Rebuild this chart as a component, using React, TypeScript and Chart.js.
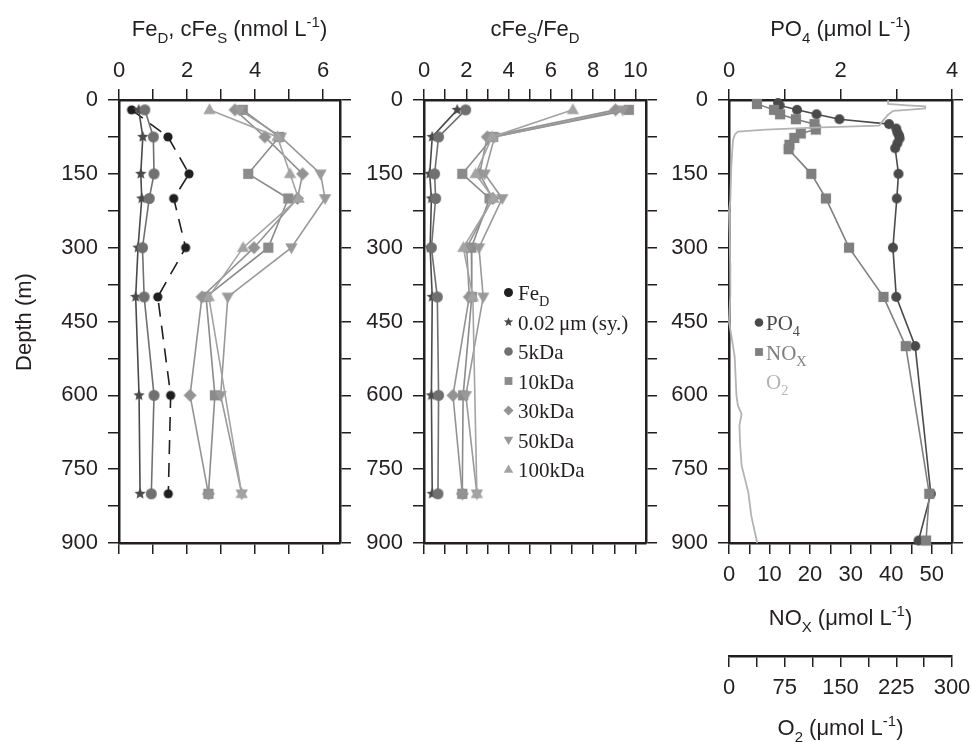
import React, { useEffect, useRef } from 'react';
import { Chart, registerables } from 'chart.js';

Chart.register(...registerables);

// ---------------- data ----------------
const DEPTHS = [20, 75, 150, 200, 300, 400, 600, 800];

// cFeS / FeD concentrations (nmol L-1)
const FE_D = [0.37, 1.44, 2.06, 1.61, 1.96, 1.14, 1.52, 1.45];
const C_002 = [0.58, 0.7, 0.64, 0.67, 0.56, 0.49, 0.59, 0.62];
const C_5K = [0.76, 1.01, 1.03, 0.89, 0.69, 0.74, 1.03, 0.95];
const C_10K = [3.64, 4.71, 3.8, 4.98, 4.39, 2.56, 2.82, 2.63];
const C_30K = [3.41, 4.29, 5.4, 5.25, 3.97, 2.44, 2.09, 2.63];
const C_50K = [3.55, 4.76, 5.93, 6.06, 5.07, 3.2, 2.99, 3.61];
const C_100K = [2.66, 4.66, 5.03, 5.28, 3.65, 2.64, null, 3.61];

// cFeS / FeD ratios
const R_002 = [1.57, 0.39, 0.27, 0.35, 0.29, 0.39, 0.35, 0.39];
const R_5K = [1.97, 0.69, 0.5, 0.55, 0.35, 0.63, 0.69, 0.66];
const R_10K = [9.69, 3.27, 1.81, 3.1, 2.24, 2.26, 1.85, 1.81];
const R_30K = [9.06, 2.99, 2.63, 3.25, 2.02, 2.14, 1.37, 1.81];
const R_50K = [9.4, 3.34, 2.87, 3.7, 2.6, 2.8, 1.98, 2.5];
const R_100K = [7.04, 3.22, 2.44, 3.28, 1.86, 2.31, null, 2.5];

// nutrients
const PO4_DEPTH = [6, 11, 20, 29, 39, 49, 58, 66, 72, 78, 88, 98, 150, 200, 300, 400, 500, 800, 895];
const PO4 = [0.88, 0.91, 1.22, 1.57, 1.98, 2.87, 3.0, 3.02, 3.05, 3.06, 3.02, 2.98, 3.04, 3.01, 2.94, 3.0, 3.34, 3.62, 3.4];
const NOX_DEPTH = [8, 20, 29, 39, 49, 60, 68, 77, 91, 100, 150, 200, 300, 400, 500, 800, 895];
const NOX = [6.9, 11.1, 12.6, 16.5, 21.1, 21.4, 17.7, 16.1, 14.9, 14.7, 20.3, 23.9, 29.6, 38.1, 43.6, 49.4, 48.6];
const O2_DEPTH = [0, 8, 11, 13, 17, 20, 22, 30, 44, 52, 56, 60, 64, 70, 81, 100, 135, 203, 227, 271, 330, 396, 450, 500, 521, 600, 621, 638, 661, 700, 743, 797, 845, 900];
const O2 = [214, 214, 240, 264, 264, 240, 221, 214, 206, 202, 113, 50, 12, 8, 5.4, 4.5, 3.1, 1.8, 0, 0.9, 1.5, 1.8, 0, 5.4, 7.6, 10, 12, 17, 14, 15, 17, 26, 30, 38];

// ---------------- styling ----------------
const SANS = "'Liberation Sans', Arial, Helvetica, sans-serif";
const SERIF = "'Liberation Serif', 'Times New Roman', serif";
const INK = '#231f20';
const FS = 22;

const COL = {
  fed: '#1f1f1f',
  s002: '#4a4a4a',
  k5: '#707070',
  k10: '#8b8b8b',
  k30: '#939393',
  k50: '#999999',
  k100: '#a3a3a3',
  po4: '#4a4a4a',
  nox: '#7f7f7f',
  o2: '#b3b3b3',
};

type Shape = 'circle' | 'star' | 'square' | 'diamond' | 'triUp' | 'triDown';

function drawMarker(ctx: CanvasRenderingContext2D, shape: Shape, x: number, y: number, r: number, color: string) {
  ctx.fillStyle = color;
  ctx.beginPath();
  if (shape === 'circle') {
    ctx.arc(x, y, r, 0, Math.PI * 2);
  } else if (shape === 'square') {
    const h = r * 0.85;
    ctx.rect(x - h, y - h, 2 * h, 2 * h);
  } else if (shape === 'diamond') {
    ctx.moveTo(x, y - r);
    ctx.lineTo(x + r, y);
    ctx.lineTo(x, y + r);
    ctx.lineTo(x - r, y);
    ctx.closePath();
  } else if (shape === 'triUp') {
    ctx.moveTo(x, y - r);
    ctx.lineTo(x + r * 0.95, y + r * 0.65);
    ctx.lineTo(x - r * 0.95, y + r * 0.65);
    ctx.closePath();
  } else if (shape === 'triDown') {
    ctx.moveTo(x, y + r);
    ctx.lineTo(x + r * 0.95, y - r * 0.65);
    ctx.lineTo(x - r * 0.95, y - r * 0.65);
    ctx.closePath();
  } else if (shape === 'star') {
    for (let i = 0; i < 10; i++) {
      const a = -Math.PI / 2 + (i * Math.PI) / 5;
      const rad = i % 2 === 0 ? r : r * 0.45;
      const px = x + Math.cos(a) * rad;
      const py = y + Math.sin(a) * rad;
      if (i === 0) ctx.moveTo(px, py);
      else ctx.lineTo(px, py);
    }
    ctx.closePath();
  }
  ctx.fill();
}

function markerCanvas(shape: Shape, r: number, color: string) {
  const c = document.createElement('canvas');
  const s = Math.ceil(r * 2 + 4);
  c.width = s;
  c.height = s;
  const ctx = c.getContext('2d') as CanvasRenderingContext2D;
  drawMarker(ctx, shape, s / 2, s / 2, r, color);
  return c;
}

type Seg = [string, number]; // 0 normal, 1 subscript, 2 superscript

function drawRich(
  ctx: CanvasRenderingContext2D,
  segs: Seg[],
  x: number,
  y: number,
  size: number,
  family: string,
  color: string,
  align: 'left' | 'center'
) {
  const parts = segs.map(([t, k]) => {
    const sz = k ? size * 0.68 : size;
    ctx.font = `${sz}px ${family}`;
    return { t, k, sz, w: ctx.measureText(t).width };
  });
  const total = parts.reduce((a, p) => a + p.w, 0);
  let cx = align === 'center' ? x - total / 2 : x;
  ctx.fillStyle = color;
  ctx.textAlign = 'left';
  ctx.textBaseline = 'alphabetic';
  for (const p of parts) {
    ctx.font = `${p.sz}px ${family}`;
    const dy = p.k === 1 ? size * 0.3 : p.k === 2 ? -size * 0.42 : 0;
    ctx.fillText(p.t, cx, y + dy);
    cx += p.w;
  }
}

// ---------------- axes ----------------
function zeroPad(s: any) {
  s.paddingLeft = 0;
  s.paddingRight = 0;
  s.paddingTop = 0;
  s.paddingBottom = 0;
}

const gridOpts = { drawOnChartArea: false, drawTicks: true, tickLength: 11, lineWidth: 1.5, color: INK };
const borderOpts = { display: true, width: 2.5, color: INK };

function depthAxis(side: 'left' | 'right', labels: boolean, width: number) {
  return {
    type: 'linear',
    position: side,
    reverse: true,
    min: 0,
    max: 900,
    afterFit: (s: any) => {
      s.width = width;
      zeroPad(s);
    },
    ticks: {
      stepSize: 75,
      autoSkip: false,
      includeBounds: false,
      display: labels,
      padding: 10,
      font: { family: SANS, size: FS },
      color: INK,
      callback: (v: number) => (v % 150 === 0 ? String(v) : ''),
    },
    grid: gridOpts,
    border: borderOpts,
  };
}

function valueAxis(
  side: 'top' | 'bottom',
  max: number,
  step: number,
  labelEvery: number,
  labels: boolean,
  height: number,
  weight = 0
) {
  return {
    type: 'linear',
    position: side,
    min: 0,
    max,
    weight,
    afterFit: (s: any) => {
      s.height = height;
      zeroPad(s);
    },
    ticks: {
      stepSize: step,
      autoSkip: false,
      includeBounds: false,
      maxRotation: 0,
      minRotation: 0,
      display: labels,
      padding: side === 'top' ? 5 : 8,
      font: { family: SANS, size: FS },
      color: INK,
      callback: (v: number) => {
        const q = v / labelEvery;
        return Math.abs(q - Math.round(q)) < 1e-6 ? String(v) : '';
      },
    },
    grid: gridOpts,
    border: borderOpts,
  };
}

function ds(
  label: string,
  depths: number[],
  values: (number | null)[],
  color: string,
  marker: HTMLCanvasElement | false,
  extra: any = {}
) {
  const data = depths
    .map((d, i) => ({ x: values[i], y: d }))
    .filter((p) => p.x !== null && p.x !== undefined);
  return {
    label,
    data,
    showLine: true,
    borderColor: color,
    backgroundColor: color,
    borderWidth: 1.6,
    pointStyle: marker || 'circle',
    pointRadius: marker ? 5 : 0,
    pointHoverRadius: marker ? 5 : 0,
    clip: false,
    ...extra,
  };
}

function overlay(draw: (ctx: CanvasRenderingContext2D) => void) {
  return {
    id: 'overlay',
    afterDraw(chart: any) {
      const ctx = chart.ctx as CanvasRenderingContext2D;
      ctx.save();
      draw(ctx);
      ctx.restore();
    },
  };
}

const W = 971;
const H = 742;
const TOP = 100;
const BOT = 543;

function baseOptions(L: number, R: number, bottomSpace: number, scales: any) {
  const leftW = 70;
  const rightW = 15;
  const topH = 60;
  return {
    responsive: false,
    animation: false,
    devicePixelRatio: 1,
    events: [],
    layout: {
      padding: {
        left: L - leftW,
        right: W - R - rightW,
        top: TOP - topH,
        bottom: H - BOT - bottomSpace,
      },
    },
    plugins: { legend: { display: false }, tooltip: { enabled: false } },
    scales: {
      y: depthAxis('left', true, leftW),
      y2: depthAxis('right', false, rightW),
      ...scales,
    },
  };
}

function markers() {
  return {
    fed: markerCanvas('circle', 4.6, COL.fed),
    s002: markerCanvas('star', 6, COL.s002),
    k5: markerCanvas('circle', 5.5, COL.k5),
    k10: markerCanvas('square', 6, COL.k10),
    k30: markerCanvas('diamond', 6.5, COL.k30),
    k50: markerCanvas('triDown', 6.5, COL.k50),
    k100: markerCanvas('triUp', 6.5, COL.k100),
    po4: markerCanvas('circle', 5, COL.po4),
    nox: markerCanvas('square', 6, COL.nox),
  };
}

function config1(m: any) {
  const L = 119;
  const R = 340;
  return {
    type: 'scatter',
    data: {
      datasets: [
        ds('100kDa', DEPTHS, C_100K, COL.k100, m.k100, { spanGaps: true }),
        ds('50kDa', DEPTHS, C_50K, COL.k50, m.k50),
        ds('30kDa', DEPTHS, C_30K, COL.k30, m.k30),
        ds('10kDa', DEPTHS, C_10K, COL.k10, m.k10),
        ds('5kDa', DEPTHS, C_5K, COL.k5, m.k5),
        ds('0.02 μm (sy.)', DEPTHS, C_002, COL.s002, m.s002),
        ds('FeD', DEPTHS, FE_D, COL.fed, m.fed, { borderDash: [14, 9], borderWidth: 1.6 }),
      ],
    },
    options: baseOptions(L, R, 30, {
      x: valueAxis('top', 6.5, 1, 2, true, 60),
      xb: valueAxis('bottom', 6.5, 1, 2, false, 30),
    }),
    plugins: [
      overlay((ctx) => {
        drawRich(ctx, [['Fe', 0], ['D', 1], [', cFe', 0], ['S', 1], [' (nmol L', 0], ['-1', 2], [')', 0]], (L + R) / 2, 36, FS, SANS, INK, 'center');
        ctx.save();
        ctx.translate(31, 322);
        ctx.rotate(-Math.PI / 2);
        ctx.font = `${FS}px ${SANS}`;
        ctx.fillStyle = INK;
        ctx.textAlign = 'center';
        ctx.textBaseline = 'alphabetic';
        ctx.fillText('Depth (m)', 0, 0);
        ctx.restore();
      }),
    ],
  };
}

function config2(m: any) {
  const L = 424;
  const R = 646;
  const legend: { segs: Seg[]; shape: Shape; color: string; r: number }[] = [
    { segs: [['Fe', 0], ['D', 1]], shape: 'circle', color: COL.fed, r: 4.5 },
    { segs: [['0.02\u2009μm (sy.)', 0]], shape: 'star', color: COL.s002, r: 4.8 },
    { segs: [['5kDa', 0]], shape: 'circle', color: COL.k5, r: 4.3 },
    { segs: [['10kDa', 0]], shape: 'square', color: COL.k10, r: 4.6 },
    { segs: [['30kDa', 0]], shape: 'diamond', color: COL.k30, r: 5 },
    { segs: [['50kDa', 0]], shape: 'triDown', color: COL.k50, r: 5 },
    { segs: [['100kDa', 0]], shape: 'triUp', color: COL.k100, r: 5 },
  ];
  return {
    type: 'scatter',
    data: {
      datasets: [
        ds('100kDa', DEPTHS, R_100K, COL.k100, m.k100, { spanGaps: true }),
        ds('50kDa', DEPTHS, R_50K, COL.k50, m.k50),
        ds('30kDa', DEPTHS, R_30K, COL.k30, m.k30),
        ds('10kDa', DEPTHS, R_10K, COL.k10, m.k10),
        ds('5kDa', DEPTHS, R_5K, COL.k5, m.k5),
        ds('0.02 μm (sy.)', DEPTHS, R_002, COL.s002, m.s002),
      ],
    },
    options: baseOptions(L, R, 30, {
      x: valueAxis('top', 10.5, 1, 2, true, 60),
      xb: valueAxis('bottom', 10.5, 1, 2, false, 30),
    }),
    plugins: [
      overlay((ctx) => {
        drawRich(ctx, [['cFe', 0], ['S', 1], ['/Fe', 0], ['D', 1]], (L + R) / 2, 36, FS, SANS, INK, 'center');
        legend.forEach((it, i) => {
          const base = 300 + i * 29.5;
          drawMarker(ctx, it.shape, 508.5, base - 7.5, it.r, it.color);
          drawRich(ctx, it.segs, 518, base, 21, SERIF, INK, 'left');
        });
      }),
    ],
  };
}

function config3(m: any) {
  const L = 729;
  const R = 952;
  const cx = (L + R) / 2;
  return {
    type: 'scatter',
    data: {
      datasets: [
        ds('O2', O2_DEPTH, O2, COL.o2, false, { xAxisID: 'o2', borderWidth: 1.8 }),
        ds('NOx', NOX_DEPTH, NOX, COL.nox, m.nox, { xAxisID: 'nox' }),
        ds('PO4', PO4_DEPTH, PO4, COL.po4, m.po4, { xAxisID: 'x' }),
      ],
    },
    options: baseOptions(L, R, 153, {
      x: valueAxis('top', 4, 1, 2, true, 60),
      nox: valueAxis('bottom', 55, 5, 10, true, 113, 0),
      o2: valueAxis('bottom', 300, 37.5, 75, true, 40, 1),
    }),
    plugins: [
      overlay((ctx) => {
        drawRich(ctx, [['PO', 0], ['4', 1], [' (μmol L', 0], ['-1', 2], [')', 0]], cx, 36, FS, SANS, INK, 'center');
        drawRich(ctx, [['NO', 0], ['X', 1], [' (μmol L', 0], ['-1', 2], [')', 0]], cx, 625, FS, SANS, INK, 'center');
        drawRich(ctx, [['O', 0], ['2', 1], [' (μmol L', 0], ['-1', 2], [')', 0]], cx, 735, FS, SANS, INK, 'center');
        drawMarker(ctx, 'circle', 759, 322.5, 4.3, COL.po4);
        drawRich(ctx, [['PO', 0], ['4', 1]], 766, 330, 21, SERIF, COL.po4, 'left');
        drawMarker(ctx, 'square', 759, 352, 4.6, COL.nox);
        drawRich(ctx, [['NO', 0], ['X', 1]], 766, 359.5, 21, SERIF, COL.nox, 'left');
        drawRich(ctx, [['O', 0], ['2', 1]], 766, 389, 21, SERIF, COL.o2, 'left');
      }),
    ],
  };
}

export default function App() {
  const r1 = useRef<HTMLCanvasElement>(null);
  const r2 = useRef<HTMLCanvasElement>(null);
  const r3 = useRef<HTMLCanvasElement>(null);

  useEffect(() => {
    const m = markers();
    const charts: Chart[] = [];
    if (r1.current) charts.push(new Chart(r1.current, config1(m) as any));
    if (r2.current) charts.push(new Chart(r2.current, config2(m) as any));
    if (r3.current) charts.push(new Chart(r3.current, config3(m) as any));
    return () => charts.forEach((c) => c.destroy());
  }, []);

  const cs: React.CSSProperties = { position: 'absolute', left: 0, top: 0, width: W, height: H, pointerEvents: 'none' };
  return (
    <div style={{ position: 'fixed', left: 0, top: 0, width: W, height: H, background: '#fff' }}>
      <canvas ref={r1} width={W} height={H} style={cs} />
      <canvas ref={r2} width={W} height={H} style={cs} />
      <canvas ref={r3} width={W} height={H} style={cs} />
    </div>
  );
}
